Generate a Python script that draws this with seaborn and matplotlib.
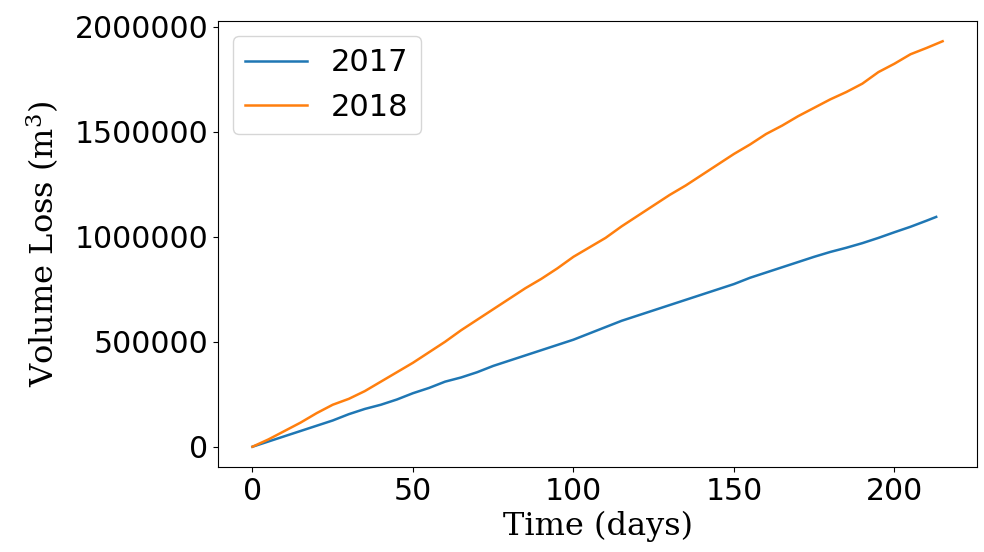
import numpy as np
import pandas as pd
import matplotlib
matplotlib.use('Agg')
import matplotlib.pyplot as plt
import seaborn as sns

# Cumulative volume loss
days_2017 = [0, 5, 10, 15, 20, 25, 30, 35, 40, 45, 50, 55, 60, 65, 70, 75, 80, 85, 90, 95,
             100, 105, 110, 115, 120, 125, 130, 135, 140, 145, 150, 155, 160, 165, 170, 175,
             180, 185, 190, 195, 200, 205, 210, 213]
loss_2017 = [0, 25000, 50000, 75000, 100000, 125000, 155000, 180000, 200000, 225000,
             255000, 280000, 310000, 330000, 355000, 385000, 410000, 435000, 460000, 485000,
             510000, 540000, 570000, 600000, 625000, 650000, 675000, 700000, 725000, 750000,
             775000, 805000, 830000, 855000, 880000, 905000, 928000, 948000, 970000, 995000,
             1022000, 1048000, 1077000, 1095000]

days_2018 = [0, 5, 10, 15, 20, 25, 30, 35, 40, 45, 50, 55, 60, 65, 70, 75, 80, 85, 90, 95,
             100, 105, 110, 115, 120, 125, 130, 135, 140, 145, 150, 155, 160, 165, 170, 175,
             180, 185, 190, 195, 200, 205, 210, 215]
loss_2018 = [0, 35000, 75000, 115000, 160000, 200000, 228000, 265000, 310000, 355000,
             400000, 450000, 500000, 555000, 605000, 655000, 705000, 755000, 800000, 850000,
             905000, 950000, 995000, 1050000, 1100000, 1150000, 1200000, 1245000, 1295000,
             1345000, 1395000, 1440000, 1490000, 1530000, 1575000, 1615000, 1655000, 1690000,
             1730000, 1785000, 1825000, 1870000, 1900000, 1932000]

df = pd.concat([
    pd.DataFrame({'days': days_2017, 'loss': loss_2017, 'year': '2017'}),
    pd.DataFrame({'days': days_2018, 'loss': loss_2018, 'year': '2018'}),
])

plt.rcParams['mathtext.fontset'] = 'dejavuserif'

fig, ax = plt.subplots(figsize=(9.84, 5.52), dpi=100)
sns.lineplot(data=df, x='days', y='loss', hue='year', palette=['#1f77b4', '#ff7f0e'],
             linewidth=1.8, ax=ax)

ax.set_xlabel('Time (days)', family='DejaVu Serif', fontsize=23, labelpad=4)
ax.set_ylabel(r'Volume Loss ($\mathrm{m}^3$)', family='DejaVu Serif', fontsize=23, labelpad=10)
ax.tick_params(labelsize=21.5)
ax.ticklabel_format(axis='y', style='plain')
ax.legend(loc='upper left', fontsize=22)

fig.subplots_adjust(left=0.2215, right=0.993, top=0.962, bottom=0.154)
plt.savefig('out.png')
